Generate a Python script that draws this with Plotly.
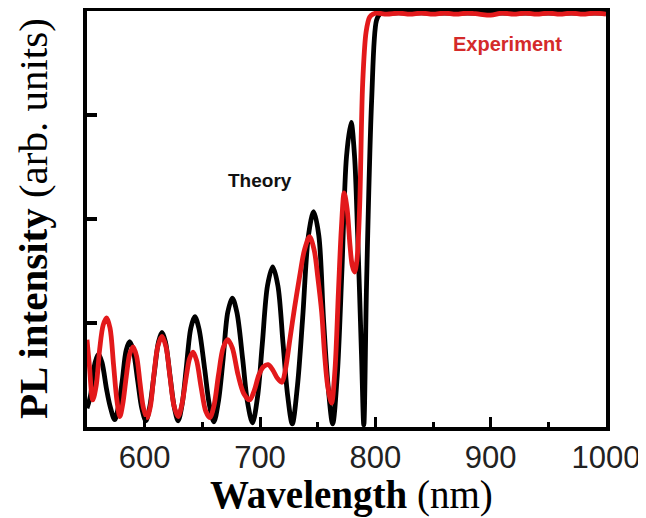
import plotly.graph_objects as go

# Theory curve (black): wavelength (nm), intensity (arb.)
theory_wl = [550, 553, 557, 560, 563, 567, 570, 574, 577, 580.5, 584, 587, 590, 594, 597.5, 601,
             604.5, 608, 612, 615, 618, 622, 625.5, 629, 632.5, 636, 640, 643.5, 647, 652, 656, 660,
             664, 668, 672, 676, 680, 685, 689, 693.5, 698, 702, 706.5, 711, 715.5, 720, 724, 728,
             732.5, 737, 742, 746.5, 751, 755, 759, 763, 767, 771, 775, 779, 782, 784.6, 788, 790,
             792.4, 796.8, 801, 804, 810, 850, 900, 950, 1000]
theory_val = [0.18, 0.3, 0.62, 0.7, 0.62, 0.36, 0.2, 0.07, 0.18, 0.44, 0.74, 0.82, 0.74, 0.44, 0.18, 0.06,
              0.2, 0.49, 0.82, 0.91, 0.82, 0.49, 0.2, 0.06, 0.22, 0.56, 0.95, 1.06, 0.95, 0.56, 0.22, 0.05,
              0.25, 0.65, 1.1, 1.24, 1.1, 0.65, 0.25, 0.04, 0.3, 0.8, 1.36, 1.54, 1.36, 0.8, 0.3, 0.03,
              0.4, 1.05, 1.84, 2.07, 1.84, 1.05, 0.4, 0.03, 0.5, 1.5, 2.6, 2.93, 2.6, 1.87, 0.7, 0.02,
              1.38, 3.14, 3.91, 3.97, 3.98, 3.98, 3.98, 3.98, 3.98]

# Experiment curve (red)
exp_wl = [550, 552, 555, 558, 561, 564, 567, 570, 573, 576, 578.5, 581, 584, 587, 590, 593, 596, 599,
          602, 605, 608, 611.5, 615, 618.5, 622, 625.5, 629, 632, 636, 639, 642, 645, 649, 653, 656.5,
          660, 664, 668, 672, 676, 681, 686, 691, 695, 699, 703, 707, 711, 715, 719, 722, 726, 730,
          734.4, 738.5, 743, 747, 750, 753.5, 756, 758.6, 762, 765, 768, 770.5, 773, 775.5, 778, 780,
          782, 784, 786.4, 789, 792, 795, 798, 801, 810, 820, 830, 840, 850, 860, 870, 880, 890, 900,
          910, 920, 930, 940, 950, 960, 970, 980, 990, 1000]
exp_val = [0.84, 0.6, 0.26, 0.4, 0.75, 0.98, 1.05, 0.95, 0.6, 0.25, 0.1, 0.22, 0.48, 0.7, 0.77, 0.68, 0.42, 0.18,
           0.09, 0.2, 0.5, 0.78, 0.87, 0.77, 0.48, 0.2, 0.1, 0.2, 0.48, 0.66, 0.72, 0.64, 0.38, 0.15, 0.09,
           0.2, 0.5, 0.76, 0.84, 0.76, 0.5, 0.32, 0.26, 0.35, 0.5, 0.58, 0.6, 0.55, 0.47, 0.43, 0.55, 0.85, 1.15,
           1.45, 1.7, 1.83, 1.7, 1.45, 1.1, 0.7, 0.4, 0.23, 0.55, 1.3, 1.9, 2.25, 2.1, 1.75, 1.55,
           1.49, 1.6, 2.12, 3.3, 3.8, 3.94, 3.97, 3.98, 3.97, 3.98, 3.97, 3.98, 3.97, 3.98,
           3.97, 3.98, 3.97, 3.96, 3.98, 3.97, 3.98, 3.97, 3.98, 3.97, 3.98, 3.97, 3.98, 3.97]

x_tick_vals = [600, 700, 800, 900, 1000]
x_tick_text = ["600", "700", "800", "900", "1000"]
y_tick_vals = [1, 2, 3]

fig = go.Figure()
fig.add_trace(go.Scatter(x=theory_wl, y=theory_val, mode="lines",
                         line=dict(color="#000000", width=4.8, shape="spline", smoothing=0.9),
                         name="Theory", showlegend=False))
fig.add_trace(go.Scatter(x=exp_wl, y=exp_val, mode="lines",
                         line=dict(color="#e3191b", width=4.8, shape="spline", smoothing=0.9),
                         name="Experiment", showlegend=False))

fig.add_annotation(x=700, y=2.37, xref="x", yref="y", text="<b>Theory</b>", showarrow=False,
                   font=dict(family="Liberation Sans, Arial", size=19, color="#111111"),
                   xanchor="center", yanchor="middle")
fig.add_annotation(x=914.5, y=3.68, xref="x", yref="y", text="<b>Experiment</b>", showarrow=False,
                   font=dict(family="Liberation Sans, Arial", size=20, color="#d42a2a"),
                   xanchor="center", yanchor="middle")

fig.add_annotation(x=0.509, y=-0.163, xref="paper", yref="paper",
                   text="<b>Wavelength</b> (nm)", showarrow=False,
                   font=dict(family="Liberation Serif, Times New Roman", size=39, color="#000000"),
                   xanchor="center", yanchor="middle")
fig.add_annotation(x=-0.104, y=0.5, xref="paper", yref="paper",
                   text="<b>PL intensity</b> (arb. units)", showarrow=False, textangle=-90,
                   font=dict(family="Liberation Serif, Times New Roman", size=41, color="#000000"),
                   xanchor="center", yanchor="middle")

fig.update_xaxes(range=[550, 1000], tickvals=x_tick_vals, ticktext=x_tick_text, automargin=False,
                 ticks="inside", ticklen=10, tickwidth=3, tickcolor="#000000",
                 minor=dict(dtick=50, tick0=550, ticks="inside", ticklen=5, tickwidth=3, tickcolor="#000000"),
                 showline=True, linewidth=4, linecolor="#000000", mirror=True,
                 showgrid=False, zeroline=False,
                 tickfont=dict(family="Liberation Sans, Arial", size=31, color="#222222"))
fig.update_yaxes(range=[0, 4], tickvals=y_tick_vals, showticklabels=False, automargin=False,
                 ticks="inside", ticklen=10, tickwidth=4, tickcolor="#000000",
                 showline=True, linewidth=4, linecolor="#000000", mirror=True,
                 showgrid=False, zeroline=False)

# the page adds an 8px body margin, so the figure is sized to fill the rest of the window
fig.update_layout(width=638, height=510, margin=dict(l=79, r=40, t=3, b=91, autoexpand=False),
                  plot_bgcolor="#ffffff", paper_bgcolor="#ffffff", showlegend=False)

fig.write_html("out.html")
